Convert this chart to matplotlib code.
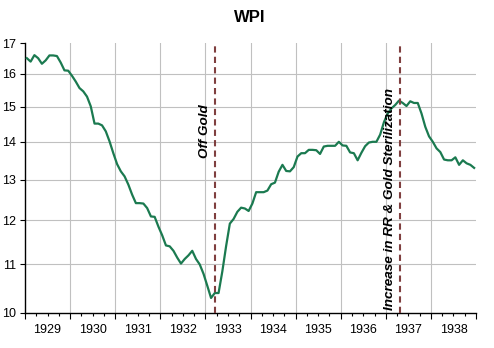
import numpy as np
from matplotlib import pyplot as plt
from matplotlib.ticker import FixedLocator, FuncFormatter, NullLocator

# monthly WPI, Jan 1929 .. Dec 1938
years = list(range(1929, 1939))
wpi = [
    16.50, 16.39, 16.60, 16.50, 16.32, 16.43, 16.59, 16.59, 16.57, 16.36, 16.11, 16.10,  # 1929
    15.94, 15.76, 15.56, 15.46, 15.30, 15.01, 14.51, 14.51, 14.46, 14.29, 14.01, 13.69,  # 1930
    13.40, 13.21, 13.08, 12.87, 12.62, 12.41, 12.41, 12.40, 12.29, 12.09, 12.08, 11.85,  # 1931
    11.65, 11.42, 11.40, 11.30, 11.15, 11.02, 11.12, 11.20, 11.30, 11.12, 11.00, 10.80,  # 1932
    10.55, 10.30, 10.40, 10.40, 10.85, 11.40, 11.92, 12.03, 12.20, 12.30, 12.28, 12.22,  # 1933
    12.40, 12.68, 12.68, 12.68, 12.72, 12.88, 12.92, 13.20, 13.38, 13.22, 13.21, 13.32,  # 1934
    13.60, 13.69, 13.69, 13.78, 13.78, 13.77, 13.67, 13.87, 13.89, 13.89, 13.89, 14.00,  # 1935
    13.90, 13.89, 13.71, 13.69, 13.50, 13.70, 13.88, 13.98, 14.00, 14.00, 14.20, 14.55,  # 1936
    14.80, 14.95, 15.05, 15.18, 15.11, 15.02, 15.16, 15.11, 15.11, 14.80, 14.42, 14.15,  # 1937
    14.00, 13.82, 13.72, 13.52, 13.50, 13.50, 13.58, 13.38, 13.50, 13.42, 13.38, 13.30,  # 1938
]
yticks = [10, 11, 12, 13, 14, 15, 16, 17]

# events: (date, label, label y position)
events = [
    (1933.22, "Off Gold", 14.3),
    (1937.31, "Increase in RR & Gold Sterilization", 12.5),
]

plt.rcParams['font.family'] = ['Liberation Sans', 'DejaVu Sans']

t = years[0] + (np.arange(len(wpi)) + 0.5) / 12.0

fig = plt.figure(figsize=(4.94, 3.48), dpi=100)
ax = fig.add_axes([0.0506, 0.1006, 0.913, 0.7758])

ax.plot(t, wpi, color='#1b7a50', lw=1.6, zorder=3)

ax.set_yscale('log')
ax.set_ylim(yticks[0], yticks[-1])
ax.yaxis.set_major_locator(FixedLocator(yticks))
ax.yaxis.set_major_formatter(FuncFormatter(lambda v, p: "%d" % round(v)))
ax.yaxis.set_minor_locator(NullLocator())

x0, x1 = years[0], years[-1] + 1
ax.set_xlim(x0, x1)
ax.xaxis.set_major_locator(FixedLocator(list(range(x0, x1 + 1))))
ax.xaxis.set_major_formatter(FuncFormatter(lambda v, p: ""))
quarters = [y + q / 4.0 for y in years for q in (1, 2, 3)]
ax.xaxis.set_minor_locator(FixedLocator(quarters))
ax.xaxis.set_minor_formatter(
    FuncFormatter(lambda v, p: "%d" % int(v) if abs(v - int(v) - 0.5) < 1e-6 else ""))

ax.tick_params(axis='x', which='major', length=4.3, width=0.8, color='black')
ax.tick_params(axis='x', which='minor', length=2.2, width=0.8, pad=5.5,
               labelsize=9, color='black')
ax.tick_params(axis='y', which='major', length=3.6, width=0.8, pad=3, labelsize=9)

ax.grid(True, which='major', color='#c0c0c0', lw=0.8, zorder=0)
# hide gridlines that sit on the frame edges
xg = ax.xaxis.get_gridlines()
xg[0].set_visible(False)
xg[-1].set_visible(False)
yg = ax.yaxis.get_gridlines()
yg[0].set_visible(False)
yg[-1].set_visible(False)

for s in ('top', 'right'):
    ax.spines[s].set_visible(False)
for s in ('left', 'bottom'):
    ax.spines[s].set_linewidth(1.0)

for x, label, ylab in events:
    ax.axvline(x, color='#7f3f3f', lw=1.5, ls=(0, (3, 2)), zorder=4)
    ax.text(x - 0.22, ylab, label, rotation=90, ha='center', va='center',
            fontsize=9.7, fontweight='bold', fontstyle='italic', zorder=5)

fig.text(0.506, 0.97, "WPI", ha='center', va='top', fontsize=12, fontweight='bold')

fig.savefig("out.png", dpi=100)
